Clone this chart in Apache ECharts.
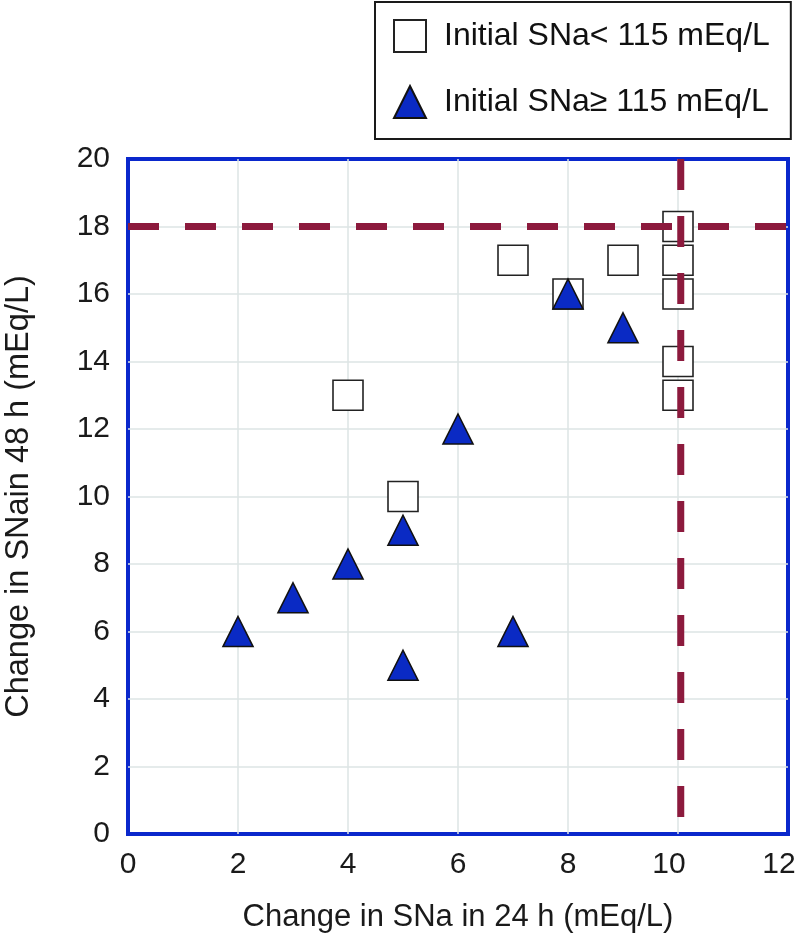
<!DOCTYPE html>
<html>
<head>
<meta charset="utf-8">
<script src="https://cdn.jsdelivr.net/npm/echarts@6/dist/echarts.min.js"></script>
<style>
html,body{margin:0;padding:0;background:#fff;}
#chart{width:796px;height:940px;}
</style>
</head>
<body>
<div id="chart"></div>
<script>
// Data
var lowNaName = 'Initial SNa< 115 mEq/L';
var highNaName = 'Initial SNa\u2265 115 mEq/L';
var lowNaX = [4, 5, 7, 8, 9, 10, 10, 10, 10, 10];
var lowNaY = [13, 10, 17, 16, 17, 18, 17, 16, 14, 13];
var highNaX = [2, 3, 4, 5, 5, 6, 7, 8, 9];
var highNaY = [6, 7, 8, 9, 5, 12, 6, 16, 15];
var refY = 18;          // horizontal dashed reference (48 h)
var refX = 10.05;       // vertical dashed reference (24 h)
var xMin = 0, xMax = 12, xStep = 2;
var yMin = 0, yMax = 20, yStep = 2;
var xTitle = 'Change in SNa in 24 h (mEq/L)';
var yTitle = 'Change in SNain 48 h (mEq/L)';

function zip(a, b) { return a.map(function (v, i) { return [v, b[i]]; }); }

var FONT = '"Liberation Sans", Arial, Helvetica, sans-serif';
var TXT = '#1a1a1a';
var dashStyle = { color: '#8c1a3d', width: 7, type: [31, 26], cap: 'butt' };
var gridLine = { show: true, showMinLine: false, showMaxLine: false, lineStyle: { color: '#dde4e4', width: 1.5 } };

var chart = echarts.init(document.getElementById('chart'), null, { renderer: 'canvas' });
chart.setOption({
  animation: false,
  backgroundColor: '#ffffff',
  textStyle: { fontFamily: FONT },
  grid: {
    left: 128, right: 8, top: 159, bottom: 106,
    outerBoundsMode: 'none', containLabel: false,
    show: true, borderColor: '#0a28cc', borderWidth: 4, backgroundColor: 'transparent'
  },
  legend: {
    data: [lowNaName, highNaName],
    orient: 'vertical',
    left: 375, top: 2,
    padding: [17, 21, 20, 18],
    itemWidth: 32, itemHeight: 32, itemGap: 32,
    borderColor: '#1a1a1a', borderWidth: 2,
    textStyle: { fontSize: 32, color: '#111111', fontFamily: FONT, padding: [0, 0, 0, 13] }
  },
  xAxis: {
    type: 'value', min: xMin, max: xMax, interval: xStep,
    name: xTitle, nameLocation: 'middle', nameGap: 68,
    nameTextStyle: { fontSize: 31, color: TXT, fontFamily: FONT },
    axisLine: { show: false }, axisTick: { show: false },
    axisLabel: {
      fontSize: 30, color: TXT, margin: 16, fontFamily: FONT,
      formatter: function (v) { return v >= 10 ? '{w|' + v + '}' : String(v); },
      rich: { w: { fontSize: 30, color: TXT, fontFamily: FONT, padding: [0, 18, 0, 0] } }
    },
    splitLine: gridLine
  },
  yAxis: {
    type: 'value', min: yMin, max: yMax, interval: yStep,
    name: yTitle, nameLocation: 'middle', nameGap: 92, nameRotate: 90,
    nameTextStyle: { fontSize: 32.5, color: TXT, fontFamily: FONT },
    axisLine: { show: false }, axisTick: { show: false },
    axisLabel: { fontSize: 30, color: TXT, margin: 18, fontFamily: FONT },
    splitLine: gridLine
  },
  series: [
    {
      name: lowNaName, type: 'scatter', symbol: 'rect', symbolSize: 30,
      itemStyle: { color: '#ffffff', borderColor: '#222222', borderWidth: 1.6, opacity: 1 },
      data: zip(lowNaX, lowNaY), z: 3
    },
    {
      name: highNaName, type: 'scatter', symbol: 'triangle', symbolSize: 30,
      itemStyle: { color: '#0a2ac4', borderColor: '#111111', borderWidth: 1.6, opacity: 1 },
      data: zip(highNaX, highNaY), z: 4
    },
    {
      name: 'refH', type: 'line', symbol: 'none', silent: true, z: 5,
      lineStyle: dashStyle,
      data: [[xMin, refY], [xMax, refY]]
    },
    {
      name: 'refV', type: 'line', symbol: 'none', silent: true, z: 5,
      lineStyle: dashStyle,
      data: [[refX, yMax], [refX, yMin]]
    }
  ]
});
</script>
</body>
</html>
